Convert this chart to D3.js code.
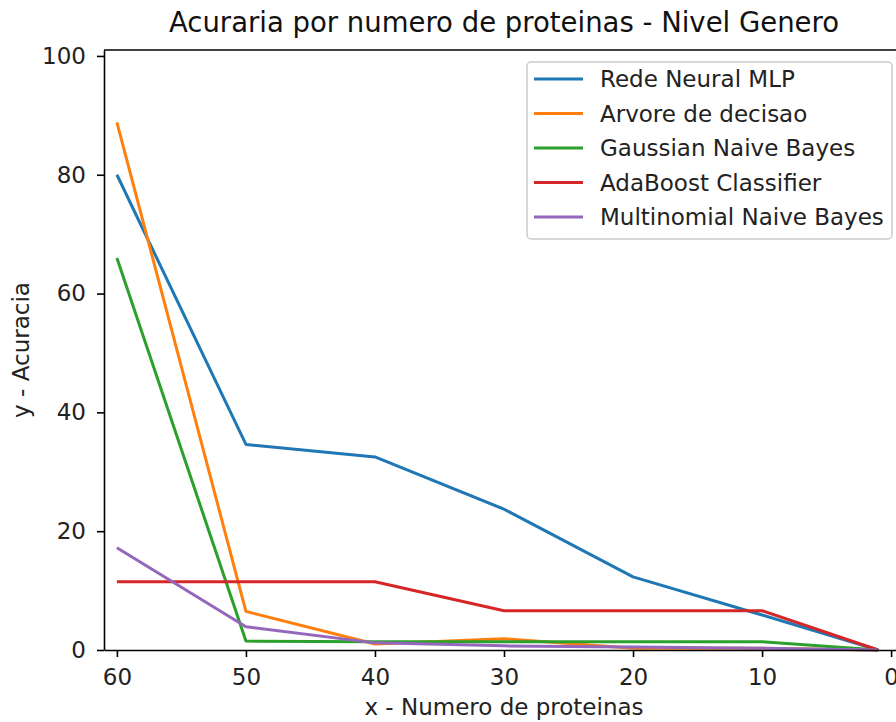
<!DOCTYPE html>
<html lang="pt">
<head>
    <meta charset="UTF-8">
    <title>Acuraria por numero de proteinas - Nivel Genero</title>
    <script src="https://d3js.org/d3.v7.min.js"></script>
    <style>
        body {
            margin: 0;
            background: #fff;
            font-family: "DejaVu Sans", sans-serif;
        }
        .axis text {
            font-size: 23px;
            fill: #222;
            font-family: "DejaVu Sans", sans-serif;
        }
        .axis path, .axis line {
            stroke: #000;
            stroke-width: 1.6px;
        }
    </style>
</head>
<body>
    <div id="chart"></div>
    <script>
        // number of proteins (x) and accuracy per model (y)
        const proteinas = [60, 50, 40, 30, 20, 10, 1];
        const redeNeuralMLP = [80.0, 34.6, 32.5, 23.7, 12.3, 5.9, 0];
        const arvoreDecisao = [88.8, 6.5, 1.0, 1.9, 0.3, 0.3, 0];
        const gaussianNB = [66.0, 1.5, 1.4, 1.4, 1.4, 1.4, 0];
        const adaBoost = [11.5, 11.5, 11.5, 6.6, 6.6, 6.6, 0];
        const multinomialNB = [17.2, 3.9, 1.2, 0.7, 0.5, 0.3, 0];

        const seriesNames = ['Rede Neural MLP', 'Arvore de decisao', 'Gaussian Naive Bayes',
            'AdaBoost Classifier', 'Multinomial Naive Bayes'];
        const seriesValues = [redeNeuralMLP, arvoreDecisao, gaussianNB, adaBoost, multinomialNB];
        const colors = ['#1f77b4', '#ff7f0e', '#2ca02c', '#d62728', '#9467bd'];

        const xTicks = [60, 50, 40, 30, 20, 10, 0];
        const yTicks = [0, 20, 40, 60, 80, 100];

        const width = 896;
        const height = 722;
        const margin = { top: 50, left: 104 };
        const plotW = 800;
        const plotH = 600;

        const svg = d3.select('#chart')
            .append('svg')
            .attr('width', width)
            .attr('height', height);

        const g = svg.append('g')
            .attr('transform', `translate(${margin.left},${margin.top})`);

        const x = d3.scaleLinear().domain([61, -1]).range([0, plotW]);
        const y = d3.scaleLinear().domain([0, 101]).range([plotH, 0]);

        // lines
        const line = d3.line()
            .x(d => x(d[0]))
            .y(d => y(d[1]));

        seriesValues.forEach((vals, i) => {
            g.append('path')
                .datum(proteinas.map((p, j) => [p, vals[j]]))
                .attr('fill', 'none')
                .attr('stroke', colors[i])
                .attr('stroke-width', 3)
                .attr('stroke-linejoin', 'round')
                .attr('d', line);
        });

        // axes
        const xAxis = d3.axisBottom(x).tickValues(xTicks).tickSize(7).tickSizeOuter(0);
        const yAxis = d3.axisLeft(y).tickValues(yTicks).tickSize(7).tickPadding(11).tickSizeOuter(0);

        g.append('g')
            .attr('class', 'axis')
            .attr('transform', `translate(0,${plotH})`)
            .call(xAxis)
            .selectAll('text')
            .attr('y', 35)
            .attr('dy', 0);

        g.append('g')
            .attr('class', 'axis')
            .call(yAxis);

        // spines
        g.append('line')
            .attr('x1', 0).attr('x2', plotW)
            .attr('y1', 0).attr('y2', 0)
            .attr('stroke', '#000').attr('stroke-width', 1.6);
        g.append('line')
            .attr('x1', plotW).attr('x2', plotW)
            .attr('y1', 0).attr('y2', plotH)
            .attr('stroke', '#000').attr('stroke-width', 1.6);

        // title and axis labels
        svg.append('text')
            .attr('x', margin.left + plotW / 2)
            .attr('y', 32)
            .attr('text-anchor', 'middle')
            .style('font-size', '27.5px')
            .style('fill', '#111')
            .text('Acuraria por numero de proteinas - Nivel Genero');

        svg.append('text')
            .attr('x', margin.left + plotW / 2)
            .attr('y', 715)
            .attr('text-anchor', 'middle')
            .style('font-size', '23px')
            .style('fill', '#222')
            .text('x - Numero de proteinas');

        svg.append('text')
            .attr('transform', `translate(29,${margin.top + plotH / 2}) rotate(-90)`)
            .attr('text-anchor', 'middle')
            .style('font-size', '23px')
            .style('fill', '#222')
            .text('y - Acuracia');

        // legend
        const legend = svg.append('g').attr('transform', 'translate(527,62)');
        legend.append('rect')
            .attr('width', 365)
            .attr('height', 177)
            .attr('rx', 4)
            .attr('fill', '#fff')
            .attr('fill-opacity', 0.8)
            .attr('stroke', '#ccc')
            .attr('stroke-width', 1.5);

        seriesNames.forEach((name, i) => {
            const yy = 17 + i * 34.5;
            legend.append('line')
                .attr('x1', 7).attr('x2', 56)
                .attr('y1', yy).attr('y2', yy)
                .attr('stroke', colors[i])
                .attr('stroke-width', 3);
            legend.append('text')
                .attr('x', 73)
                .attr('y', yy)
                .attr('dy', '0.35em')
                .style('font-size', '23px')
                .style('fill', '#222')
                .text(name);
        });
    </script>
</body>
</html>
